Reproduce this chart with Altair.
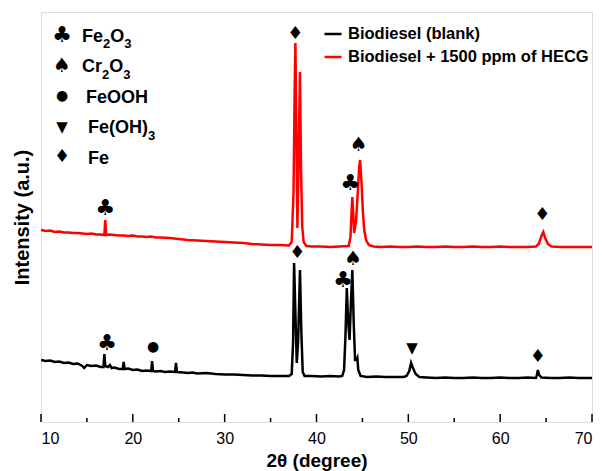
import altair as alt
import pandas as pd

# ---- data (intensity in arbitrary units) ----
blank_x = [10.0, 10.5, 11.0, 11.5, 12.0, 12.5, 13.0, 13.5, 14.0, 14.5, 14.7, 15.0, 15.5, 16.0, 16.5, 16.8, 16.9, 17.0,
           17.3, 17.5, 17.7, 18.0, 18.5, 18.9, 19.0, 19.1, 19.5, 20.0, 20.5, 21.0, 21.5, 22.0, 22.1, 22.2, 22.5, 23.0,
           23.5, 24.0, 24.6, 24.7, 24.8, 25.5, 26.0, 26.5, 27.0, 28.0, 29.0, 30.0, 31.0, 32.0, 33.0, 34.0, 35.0, 36.0,
           37.0, 37.3, 37.45, 37.56, 37.7, 37.85, 38.0, 38.2, 38.35, 38.5, 38.7, 39.5, 40.5, 41.5, 42.5, 42.8, 43.0,
           43.15, 43.3, 43.45, 43.6, 43.75, 43.9, 44.05, 44.2, 44.35, 44.45, 44.55, 44.8, 45.5, 46.5, 47.5, 48.5, 49.5,
           49.8, 50.1, 50.3, 50.5, 50.8, 51.2, 52.0, 53.0, 54.0, 55.0, 56.0, 57.0, 58.0, 59.0, 60.0, 61.0, 62.0, 63.0,
           63.9, 64.0, 64.1, 64.25, 64.5, 65.5, 66.5, 67.5, 68.5, 69.5, 70.0]
blank_y = [62, 61, 61.5, 60, 60.5, 59, 59.5, 58, 58.5, 56, 54, 57, 56, 56.5, 55, 55, 68, 56,
           55, 57, 54, 54.5, 53, 53, 60, 53, 53.5, 52, 52.5, 51, 51.5, 51, 61, 51, 50.5, 51,
           50, 50.5, 50, 59, 50, 49.5, 49, 49.5, 48.5, 49, 48, 47.5, 47.5, 47, 46.5, 46.5, 46, 46,
           46, 48, 80, 159, 110, 59, 80, 152, 90, 50, 46, 46, 45.5, 46, 45.5, 46, 52,
           85, 134, 100, 82, 120, 152, 100, 62, 62, 64, 52, 46, 45, 45.5, 45, 45, 45,
           46, 51, 59, 54, 48, 45, 44.5, 44, 44.5, 44, 44, 44.5, 44, 44, 44.5, 44, 44, 44.5,
           44, 47, 52, 47, 44.5, 44, 44, 44.5, 44, 44, 44]

hecg_x = [10.0, 10.5, 11.0, 11.5, 12.0, 12.5, 13.0, 13.5, 14.0, 14.5, 15.0, 15.5, 16.0, 16.5, 16.9, 17.0, 17.1,
          17.5, 18.0, 18.5, 19.0, 19.5, 20.0, 20.5, 21.0, 21.5, 22.0, 22.5, 23.0, 24.0, 25.0, 26.0, 27.0, 28.0,
          29.0, 30.0, 31.0, 32.0, 33.0, 34.0, 35.0, 36.0, 37.0, 37.3, 37.5, 37.62, 37.7, 37.8, 37.92, 38.05, 38.2,
          38.32, 38.45, 38.6, 38.9, 39.5, 40.5, 41.5, 42.5, 43.5, 43.7, 43.82, 43.9, 44.0, 44.1, 44.3, 44.5, 44.65,
          44.75, 44.9, 45.05, 45.2, 45.4, 45.7, 46.2, 47.0, 48.0, 49.0, 50.0, 51.0, 52.0, 53.0, 54.0, 55.0, 56.0,
          57.0, 58.0, 59.0, 60.0, 61.0, 62.0, 63.0, 63.9, 64.2, 64.5, 64.7, 64.9, 65.2, 65.6, 66.5, 67.5, 68.5,
          69.5, 70.0]
hecg_y = [192, 191, 191.5, 190, 190.5, 189.5, 189.5, 189, 189, 188.5, 188, 188.5, 187.5, 187.5, 187, 202, 187,
          187.5, 187, 186.5, 186.5, 186, 186.5, 185.5, 185.5, 185, 185.5, 184.5, 184.5, 184, 183, 182, 181.5, 181,
          180.5, 180, 179.5, 179, 178, 177.5, 177, 177, 176.5, 180, 230, 330, 379, 300, 194, 260, 350,
          250, 195, 180, 176, 175.5, 175.5, 175, 175.5, 176, 185, 210, 225, 210, 189, 200, 230, 255,
          262, 240, 210, 192, 182, 177, 175.5, 175, 175.5, 175, 175, 175.5, 175, 175, 175.5, 175, 175,
          175.5, 175, 175, 175.5, 175, 175, 175, 175.5, 178, 186, 190, 184, 178, 175.5, 175, 175, 175,
          175, 175]

series_names = ["Biodiesel (blank)", "Biodiesel + 1500 ppm of HECG"]
series_colors = ["#000000", "#ff0000"]

# peak markers
ann_x = [17.2, 22.2, 37.9, 42.9, 44.0, 50.4, 64.1, 17.0, 37.7, 43.7, 44.6, 64.6]
ann_y = [79, 75, 169, 142, 163, 74, 65, 214, 388, 239, 277, 207]
ann_sym = ["♣", "●", "♦", "♣", "♠", "▼", "♦", "♣", "♦", "♣", "♠", "♦"]

# phase key
key_sym = ["♣", "♠", "●", "▼", "♦"]
key_label = ["Fe₂O₃", "Cr₂O₃", "FeOOH", "Fe(OH)₃", "Fe"]

major_ticks = [10, 20, 30, 40, 50, 60, 70]
minor_ticks = [15, 25, 35, 45, 55, 65]

# ---- styling helpers ----
SYM_SIZE = {"♣": 22, "♠": 20, "●": 14, "▼": 15, "♦": 18}
SUBS = {"₀": "0", "₁": "1", "₂": "2", "₃": "3", "₄": "4", "₅": "5", "₆": "6", "₇": "7", "₈": "8", "₉": "9"}
# approximate advance widths (em) of Liberation Sans Bold
ADV = {"F": 0.611, "e": 0.556, "O": 0.778, "C": 0.722, "r": 0.389, "(": 0.333, ")": 0.333,
       "H": 0.722}
MAIN_FS, SUB_FS = 18, 13

# ---- build tables ----
lines = pd.concat([
    pd.DataFrame({"x": blank_x, "y": blank_y, "s": series_names[0]}),
    pd.DataFrame({"x": hecg_x, "y": hecg_y, "s": series_names[1]}),
])
ann = pd.DataFrame({"x": ann_x, "y": ann_y, "t": ann_sym})
ann["fs"] = ann["t"].map(SYM_SIZE)

row_y = [23 + 30.5 * i for i in range(len(key_sym))]
label_x0 = [41, 41, 45, 47, 47]
key_syms = pd.DataFrame({"sym": key_sym, "py": row_y, "sx": [21] * len(key_sym)})
key_syms["fs"] = key_syms["sym"].map(SYM_SIZE)

seg_rows = []
for lab, py, x0 in zip(key_label, row_y, label_x0):
    runs = []
    for ch in lab:
        sub = ch in SUBS
        c = SUBS.get(ch, ch)
        if runs and runs[-1][1] == sub:
            runs[-1][0] += c
        else:
            runs.append([c, sub])
    x = x0
    for txt, sub in runs:
        fs = SUB_FS if sub else MAIN_FS
        seg_rows.append({"t": txt, "px": x, "py": py + (13 if sub else 6.5), "fs": fs})
        x += sum(ADV.get(c, 0.556) for c in txt) * fs
segs = pd.DataFrame(seg_rows)

W, H = 551, 410
FONT = "Liberation Sans"
SYMF = "DejaVu Sans"

xs = alt.Scale(domain=[10, 70], nice=False, zero=False)
ys = alt.Scale(domain=[0, 410], nice=False, zero=False)

base_line = alt.Chart(lines).mark_line(strokeWidth=2.5, clip=True).encode(
    x=alt.X("x:Q", scale=xs,
            axis=alt.Axis(values=major_ticks, tickSize=0, domain=False, grid=False,
                          labelFont=FONT, labelFontSize=16, labelColor="black", labelPadding=8,
                          title="2θ (degree)", titleFont=FONT, titleFontSize=19,
                          titleFontWeight="bold", titleColor="black", titlePadding=5)),
    y=alt.Y("y:Q", scale=ys,
            axis=alt.Axis(labels=False, ticks=False, domain=False, grid=False,
                          title="Intensity (a.u.)", titleFont=FONT, titleFontSize=20,
                          titleFontWeight="bold", titleColor="black", titlePadding=9)),
    color=alt.Color("s:N", scale=alt.Scale(domain=series_names, range=series_colors),
                    legend=alt.Legend(title=None, orient="none", legendX=282, legendY=12,
                                      symbolType="stroke", symbolSize=289, symbolStrokeWidth=2.5,
                                      labelFont=FONT, labelFontSize=16.5, labelFontWeight="bold",
                                      labelColor="black", labelOffset=5, rowPadding=4,
                                      labelLimit=400)),
    detail="s:N",
)

major = alt.Chart(pd.DataFrame({"x": major_ticks})).mark_rule(color="black", strokeWidth=1.5).encode(
    x=alt.X("x:Q", scale=xs), y=alt.value(H), y2=alt.value(H - 8))
minor = alt.Chart(pd.DataFrame({"x": minor_ticks})).mark_rule(color="black", strokeWidth=1.5).encode(
    x=alt.X("x:Q", scale=xs), y=alt.value(H), y2=alt.value(H - 4))

marks = alt.Chart(ann).mark_text(font=SYMF, color="black", baseline="middle").encode(
    x=alt.X("x:Q", scale=xs), y=alt.Y("y:Q", scale=ys), text="t:N",
    size=alt.Size("fs:Q", scale=None, legend=None))

key_sym_layer = alt.Chart(key_syms).mark_text(font=SYMF, color="black", baseline="middle").encode(
    x=alt.X("sx:Q", scale=None), y=alt.Y("py:Q", scale=None), text="sym:N",
    size=alt.Size("fs:Q", scale=None, legend=None))
key_lab_layer = alt.Chart(segs).mark_text(font=FONT, fontWeight="bold", color="black",
                                          baseline="alphabetic", align="left").encode(
    x=alt.X("px:Q", scale=None), y=alt.Y("py:Q", scale=None), text="t:N",
    size=alt.Size("fs:Q", scale=None, legend=None))

chart = alt.layer(base_line, major, minor, marks, key_sym_layer, key_lab_layer).properties(
    width=W, height=H,
    autosize=alt.AutoSizeParams(type="none"),
    padding={"left": 41, "top": 12, "right": 10, "bottom": 49},
).configure_view(stroke="black", strokeWidth=2).configure(background="white")

chart.save("out.html", embed_options={"renderer": "svg", "actions": False})
